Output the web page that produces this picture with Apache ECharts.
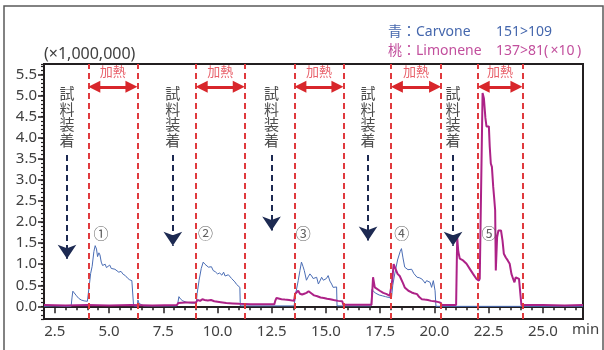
<!DOCTYPE html>
<html><head><meta charset="utf-8">
<script src="https://cdn.jsdelivr.net/npm/echarts@6/dist/echarts.min.js"></script>
<style>html,body{margin:0;padding:0;background:#fff}#c{width:604px;height:350px}</style>
</head><body><div id="c"></div>
<script>
// Carvone 151>109 (blue), [time(min), intensity(x1,000,000)]
const carvone = [[2.0,0.0],[2.5,0.01],[3.0,0.0],[3.25,0.0],[3.29,0.2],[3.33,0.36],[3.37,0.39],[3.42,0.33],[3.5,0.25],[3.6,0.19],[3.72,0.15],[3.85,0.13],[4.0,0.12],[4.07,0.12],[4.1,0.55],[4.15,0.78],[4.22,0.95],[4.3,1.3],[4.36,1.44],[4.42,1.36],[4.47,1.18],[4.53,1.27],[4.58,1.22],[4.64,1.05],[4.7,0.97],[4.76,0.93],[4.82,1.0],[4.88,0.92],[4.95,0.96],[5.03,0.98],[5.1,0.9],[5.18,0.93],[5.27,0.88],[5.36,0.86],[5.45,0.81],[5.55,0.83],[5.65,0.76],[5.75,0.73],[5.85,0.67],[5.95,0.63],[6.05,0.61],[6.11,0.59],[6.13,0.01],[6.3,0.0],[6.33,0.15],[6.38,0.07],[6.45,0.03],[6.6,0.01],[8.12,0.01],[8.17,0.08],[8.22,0.23],[8.3,0.17],[8.4,0.13],[8.55,0.1],[8.75,0.08],[9.02,0.07],[9.06,0.3],[9.15,0.62],[9.25,0.9],[9.34,1.05],[9.42,1.0],[9.5,0.97],[9.58,0.93],[9.65,0.89],[9.72,0.94],[9.8,0.85],[9.9,0.82],[10.0,0.77],[10.1,0.79],[10.2,0.74],[10.28,0.81],[10.35,0.72],[10.42,0.7],[10.5,0.75],[10.57,0.73],[10.65,0.66],[10.72,0.64],[10.8,0.58],[10.88,0.52],[10.95,0.48],[11.03,0.45],[11.05,0.01],[13.53,0.01],[13.6,0.29],[13.72,0.61],[13.8,0.85],[13.87,1.05],[13.94,0.95],[14.0,0.85],[14.1,0.62],[14.18,0.7],[14.26,0.77],[14.34,0.72],[14.41,0.66],[14.5,0.7],[14.57,0.69],[14.65,0.53],[14.72,0.6],[14.8,0.69],[14.88,0.62],[14.95,0.61],[15.02,0.66],[15.1,0.73],[15.18,0.6],[15.26,0.53],[15.33,0.45],[15.42,0.47],[15.49,0.46],[15.51,0.01],[17.08,0.01],[17.12,0.4],[17.2,0.35],[17.3,0.31],[17.45,0.27],[17.6,0.25],[17.75,0.23],[17.9,0.21],[18.02,0.2],[18.08,0.5],[18.17,0.77],[18.3,1.1],[18.42,1.3],[18.48,1.37],[18.55,1.15],[18.63,0.93],[18.7,0.96],[18.78,0.87],[18.85,0.85],[18.95,0.88],[19.05,0.78],[19.12,0.75],[19.2,0.69],[19.3,0.68],[19.42,0.65],[19.5,0.6],[19.57,0.55],[19.64,0.61],[19.72,0.6],[19.8,0.57],[19.87,0.45],[19.95,0.61],[20.03,0.37],[20.07,0.0],[26.85,0.0]];

// Limonene 137>81 (x10) (magenta)
const limonene = [[2.0,0.03],[3.0,0.02],[4.0,0.03],[5.0,0.02],[6.0,0.03],[7.0,0.02],[8.12,0.03],[8.2,0.08],[8.5,0.09],[9.0,0.09],[9.08,0.15],[9.2,0.13],[9.3,0.17],[9.4,0.15],[9.55,0.14],[9.7,0.15],[9.85,0.12],[10.0,0.11],[10.15,0.1],[10.4,0.08],[10.7,0.07],[11.0,0.06],[11.5,0.05],[12.0,0.05],[12.62,0.05],[12.66,0.13],[12.72,0.2],[12.8,0.19],[12.95,0.17],[13.1,0.16],[13.3,0.15],[13.53,0.13],[13.58,0.3],[13.65,0.33],[13.72,0.37],[13.8,0.3],[13.9,0.28],[14.0,0.3],[14.1,0.32],[14.2,0.36],[14.27,0.35],[14.35,0.3],[14.45,0.26],[14.6,0.24],[14.75,0.21],[14.9,0.2],[15.05,0.18],[15.2,0.17],[15.35,0.15],[15.56,0.13],[15.75,0.12],[15.8,0.04],[17.1,0.04],[17.14,0.4],[17.17,0.69],[17.25,0.45],[17.33,0.41],[17.48,0.37],[17.64,0.32],[17.8,0.29],[17.94,0.25],[18.0,0.25],[18.05,0.6],[18.12,1.0],[18.17,1.02],[18.24,0.85],[18.3,0.77],[18.4,0.72],[18.48,0.69],[18.55,0.55],[18.63,0.45],[18.72,0.42],[18.8,0.37],[18.88,0.4],[18.95,0.33],[19.05,0.31],[19.2,0.29],[19.3,0.22],[19.42,0.17],[19.55,0.16],[19.7,0.15],[19.85,0.13],[20.0,0.12],[20.2,0.1],[20.3,0.08],[20.33,0.03],[21.0,0.03],[21.03,1.0],[21.05,1.64],[21.1,1.3],[21.17,1.13],[21.32,1.09],[21.48,1.01],[21.63,0.89],[21.78,0.77],[21.94,0.65],[22.05,0.61],[22.09,0.66],[22.22,5.06],[22.28,4.94],[22.35,4.47],[22.4,4.27],[22.48,4.23],[22.51,4.27],[22.55,3.79],[22.6,3.39],[22.65,3.31],[22.71,2.84],[22.75,2.6],[22.8,2.28],[22.83,0.85],[22.89,1.64],[22.95,1.8],[23.01,1.84],[23.07,1.8],[23.14,1.56],[23.2,1.25],[23.29,1.16],[23.38,1.09],[23.47,1.01],[23.55,0.77],[23.63,0.65],[23.69,0.57],[23.75,0.69],[23.81,0.69],[23.9,0.65],[23.97,0.61],[24.01,0.03],[25.0,0.03],[26.0,0.02],[26.85,0.03]];

const heatStart = [4.05, 9.0, 13.55, 18.0, 22.0];
const heatEnd = [6.3, 11.25, 15.8, 20.3, 24.05];
const loadTime = [3.06, 7.94, 12.49, 16.94, 20.86];
const loadArrowTip = [1.13, 1.44, 1.80, 1.56, 1.44];
const runLabels = ['①','②','③','④','⑤'];
const runLabelX = [4.63, 9.45, 13.95, 18.49, 22.52];
const xTickLabels = [2.5, 5, 7.5, 10, 12.5, 15, 17.5, 20, 22.5, 25];
const yTickLabels = [0, 0.5, 1, 1.5, 2, 2.5, 3, 3.5, 4, 4.5, 5, 5.5];
const xUnit = 'min';
const heatText = '加熱';
const loadText = '試料装着';

const FONT = "'Noto Sans', 'Noto Sans CJK JP', sans-serif";
const CJK = "'Noto Sans CJK JP', 'Noto Sans', sans-serif";
const AX = '#231f20';
const BLUE = '#4a6db5';
const MAG = '#ad2287';

const chart = echarts.init(document.getElementById('c'), null, {renderer: 'canvas'});

const isX = v => xTickLabels.some(t => Math.abs(t - v) < 1e-6);
const isY = v => yTickLabels.some(t => Math.abs(t - v) < 1e-6);

const option = {
  animation: false,
  backgroundColor: '#fff',
  textStyle: {fontFamily: FONT},
  grid: {left: 44, right: 21, top: 64, bottom: 31, show: true, borderColor: AX, borderWidth: 2, containLabel: false},
  legend: {
    orient: 'vertical', left: 378, top: 20, itemWidth: 0, itemHeight: 14, itemGap: 5,
    icon: 'rect', selectedMode: false,
    itemStyle: {opacity: 0}, lineStyle: {opacity: 0},
    data: ['Carvone', 'Limonene'],
    formatter: n => n === 'Carvone' ? '{b|青：Carvone}{bv|151>109}' : '{p|桃：Limonene}{pv|137>81(\u2009×10\u2009)}',
    textStyle: {
      fontFamily: FONT, fontSize: 14,
      rich: {
        b: {color: '#4567ad', fontSize: 14, width: 108, fontFamily: FONT},
        bv: {color: '#4567ad', fontSize: 14, fontFamily: FONT},
        p: {color: '#c24f9d', fontSize: 14, width: 108, fontFamily: FONT},
        pv: {color: '#c24f9d', fontSize: 14, fontFamily: FONT}
      }
    }
  },
  xAxis: [
    {
      type: 'value', min: 2, max: 26.85, interval: 0.5,
      axisLine: {lineStyle: {color: AX, width: 2}},
      axisTick: {length: 4, lineStyle: {color: AX, width: 1.5}},
      axisLabel: {formatter: v => isX(v) ? v.toFixed(1) : '', fontSize: 15, color: '#404040', margin: 5, fontFamily: FONT},
      splitLine: {show: false}
    },
    {
      type: 'value', min: 2, max: 26.85, position: 'bottom',
      axisLine: {show: false},
      axisTick: {show: true, customValues: xTickLabels, length: 7, lineStyle: {color: AX, width: 1.5}},
      axisLabel: {show: false}, splitLine: {show: false}
    }
  ],
  yAxis: [
    {
      type: 'value', min: -0.3, max: 5.75, interval: 0.1,
      axisLine: {show: true, lineStyle: {color: AX, width: 2}},
      axisTick: {show: true, length: 3, lineStyle: {color: AX, width: 1.2}},
      axisLabel: {formatter: v => isY(v) ? v.toFixed(1) : '', fontSize: 15, color: '#404040', margin: 7, fontFamily: FONT},
      splitLine: {show: false},
      name: '(×1,000,000)', nameLocation: 'end', nameGap: 2,
      nameTextStyle: {fontSize: 16, color: '#404040', align: 'left', fontFamily: FONT}
    },
    {
      type: 'value', min: -0.3, max: 5.75, position: 'left',
      axisLine: {show: false},
      axisTick: {show: true, customValues: yTickLabels, length: 6, lineStyle: {color: AX, width: 1.5}},
      axisLabel: {show: false}, splitLine: {show: false}
    }
  ],
  series: [
    {
      name: 'Carvone', type: 'line', data: carvone, showSymbol: false, symbol: 'none',
      lineStyle: {color: BLUE, width: 1}, itemStyle: {color: BLUE}, z: 3, emphasis: {disabled: true}
    },
    {
      name: 'Limonene', type: 'line', data: limonene, showSymbol: false, symbol: 'none',
      lineStyle: {color: MAG, width: 2}, itemStyle: {color: MAG}, z: 4, emphasis: {disabled: true}
    },
    {
      name: 'heatLines', type: 'line', data: [], z: 5, silent: true,
      markLine: {
        silent: true, symbol: ['none', 'none'], animation: false,
        label: {show: false}, emphasis: {disabled: true},
        lineStyle: {color: '#e03a3e', width: 2, type: [6, 4]},
        data: heatStart.concat(heatEnd).map(v => ({xAxis: v}))
      }
    },
    {
      name: 'heatArrows', type: 'line', data: [], z: 6, silent: true,
      markLine: {
        silent: true, symbol: ['triangle', 'triangle'], symbolSize: 12, animation: false,
        label: {show: false}, emphasis: {disabled: true},
        lineStyle: {color: '#d8262b', width: 3, type: 'solid'},
        itemStyle: {color: '#d8262b'},
        data: heatStart.map((s, i) => [{coord: [s + 0.27, 5.21]}, {coord: [heatEnd[i] - 0.27, 5.21]}])
      }
    },
    {
      name: 'loadArrows', type: 'line', data: [], z: 6, silent: true,
      markLine: {
        silent: true, symbol: ['none', 'arrow'], symbolSize: 14, animation: false,
        label: {show: false}, emphasis: {disabled: true},
        lineStyle: {color: '#1d2a52', width: 2, type: [6, 4]},
        itemStyle: {color: '#1d2a52'},
        data: loadTime.map((t, i) => [{coord: [t, 3.59]}, {coord: [t, loadArrowTip[i]]}])
      }
    },
    {
      name: 'labels', type: 'line', data: [], z: 7, silent: true,
      markPoint: {
        silent: true, symbol: 'circle', symbolSize: 1, animation: false,
        itemStyle: {color: 'rgba(0,0,0,0)'},
        data: [].concat(
          heatStart.map((s, i) => ({coord: [(s + heatEnd[i]) / 2, 5.59], label: {show: true, position: 'inside', formatter: heatText, color: '#e8606a', fontSize: 13, fontFamily: CJK}})),
          loadTime.map(t => ({coord: [t, 4.5], label: {show: true, position: 'inside',
            formatter: loadText.split('').map(c => '{c|' + c + '}').join('\n'),
            rich: {c: {color: '#4d4d4d', fontSize: 15, lineHeight: 15.5, height: 15.5, fontFamily: CJK}}}})),
          runLabelX.map((x, i) => ({coord: [x, 1.73], label: {show: true, position: 'inside', formatter: runLabels[i], color: '#606060', fontSize: 15, fontFamily: CJK}}))
        )
      }
    }
  ],
  graphic: [
    {type: 'rect', shape: {x: 4, y: 6, width: 599, height: 360}, style: {fill: 'none', stroke: '#5a5a5a', lineWidth: 1.5}, silent: true, z: -1},
    {type: 'text', left: 572, top: 322, silent: true, style: {text: xUnit, fontSize: 15, fill: '#404040', fontFamily: FONT}}
  ]
};
chart.setOption(option);
</script>
</body></html>
